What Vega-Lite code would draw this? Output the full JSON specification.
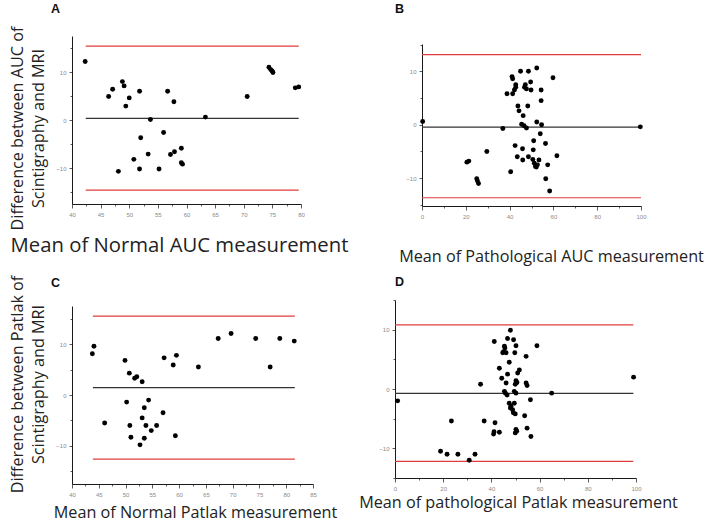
{
  "$schema": "https://vega.github.io/schema/vega-lite/v6.json",
  "padding": {"left": 8, "top": 2, "right": 2, "bottom": 2},
  "background": "white",
  "config": {
    "view": {"stroke": null},
    "font": "Open Sans",
    "title": {"font": "Liberation Sans", "fontSize": 12.5, "fontWeight": "bold", "anchor": "start", "frame": "group", "baseline": "alphabetic", "color": "#111111"},
    "axis": {"grid": false, "domainColor": "#1a1a1a", "domainWidth": 1, "tickColor": "#333333", "tickWidth": 0.8, "labelFontSize": 6, "labelColor": "#8a8a8a", "labelFont": "Liberation Sans", "labelPadding": 3, "titleFont": "Open Sans", "titleFontWeight": "normal", "titleColor": "#222222", "titleFontSize": 16.2, "labelOverlap": false, "labelFlush": false},
    "axisX": {"titleBaseline": "alphabetic", "titleAngle": 0},
    "axisY": {"titleLineHeight": 21, "titleBaseline": "bottom", "values": [-15, -10, -5, 0, 5, 10, 15],
      "labelExpr": "datum.value % 10 === 0 ? datum.label : ''",
      "tickSize": {"condition": {"test": "datum.value % 10 === 0", "value": 3}, "value": 2}}
  },
  "datasets": {
    "lines": [
      {"panel": "A", "kind": "limit", "m": 42.4, "m2": 79.6, "d": 15.4},
      {"panel": "A", "kind": "limit", "m": 42.4, "m2": 79.6, "d": -14.6},
      {"panel": "A", "kind": "mean", "m": 42.4, "m2": 79.6, "d": 0.35},
      {"panel": "B", "kind": "limit", "m": 0, "m2": 100, "d": 13.1},
      {"panel": "B", "kind": "limit", "m": 0, "m2": 100, "d": -13.66},
      {"panel": "B", "kind": "mean", "m": 0, "m2": 100, "d": -0.43},
      {"panel": "C", "kind": "limit", "m": 43.9, "m2": 81.6, "d": 15.5},
      {"panel": "C", "kind": "limit", "m": 43.9, "m2": 81.6, "d": -12.6},
      {"panel": "C", "kind": "mean", "m": 43.9, "m2": 81.6, "d": 1.45},
      {"panel": "D", "kind": "limit", "m": 0, "m2": 98.9, "d": 10.8},
      {"panel": "D", "kind": "limit", "m": 0, "m2": 98.9, "d": -12.2},
      {"panel": "D", "kind": "mean", "m": 0, "m2": 98.9, "d": -0.73}
    ],
    "pointsA": [
      {"m": 42.3, "d": 12.2}, {"m": 46.4, "d": 4.9}, {"m": 47.1, "d": 6.4}, {"m": 48.8, "d": 8.0}, {"m": 49.1, "d": 7.1},
      {"m": 50.0, "d": 4.6}, {"m": 49.4, "d": 2.9}, {"m": 51.8, "d": 6.0}, {"m": 48.1, "d": -10.7}, {"m": 50.8, "d": -8.2},
      {"m": 51.8, "d": -10.2}, {"m": 52.0, "d": -3.7}, {"m": 53.3, "d": -7.1}, {"m": 53.7, "d": 0.1}, {"m": 55.2, "d": -10.2},
      {"m": 56.0, "d": -2.6}, {"m": 56.7, "d": 6.0}, {"m": 57.2, "d": -7.2}, {"m": 57.8, "d": 3.8}, {"m": 57.9, "d": -6.6},
      {"m": 59.1, "d": -5.9}, {"m": 59.1, "d": -8.9}, {"m": 59.3, "d": -9.2}, {"m": 63.3, "d": 0.6}, {"m": 70.6, "d": 4.9},
      {"m": 74.4, "d": 11.0}, {"m": 74.7, "d": 10.5}, {"m": 74.95, "d": 10.2}, {"m": 75.1, "d": 9.9}, {"m": 79.0, "d": 6.7},
      {"m": 79.6, "d": 6.9}
    ],
    "pointsB": [
      {"m": 0.3, "d": 0.6}, {"m": 20.5, "d": -7.0}, {"m": 21.4, "d": -6.8}, {"m": 29.6, "d": -5.0}, {"m": 25.0, "d": -10.1},
      {"m": 25.3, "d": -10.5}, {"m": 25.8, "d": -11.0}, {"m": 36.9, "d": -0.7}, {"m": 38.8, "d": 5.8}, {"m": 40.5, "d": -8.8},
      {"m": 41.1, "d": 9.0}, {"m": 41.4, "d": 8.6}, {"m": 41.4, "d": 5.8}, {"m": 42.2, "d": 6.5}, {"m": 42.8, "d": 7.0},
      {"m": 42.8, "d": 7.5}, {"m": 42.5, "d": -3.9}, {"m": 43.5, "d": -6.0}, {"m": 43.8, "d": 3.5}, {"m": 44.3, "d": 2.6},
      {"m": 45.0, "d": 10.0}, {"m": 45.5, "d": 0.1}, {"m": 46.2, "d": 1.7}, {"m": 45.9, "d": -4.5}, {"m": 46.0, "d": -6.6},
      {"m": 46.6, "d": -0.2}, {"m": 47.2, "d": 7.5}, {"m": 46.8, "d": 7.0}, {"m": 47.7, "d": 6.7}, {"m": 47.7, "d": -0.6},
      {"m": 48.3, "d": 3.5}, {"m": 48.6, "d": 10.0}, {"m": 48.6, "d": -6.0}, {"m": 49.6, "d": 8.0}, {"m": 49.8, "d": 6.5},
      {"m": 50.8, "d": -4.7}, {"m": 50.6, "d": -6.5}, {"m": 51.0, "d": -3.0}, {"m": 51.3, "d": -7.2}, {"m": 51.8, "d": -7.8},
      {"m": 52.2, "d": -7.9}, {"m": 52.4, "d": 10.6}, {"m": 52.4, "d": 0.5}, {"m": 52.7, "d": -7.5}, {"m": 53.4, "d": -6.6},
      {"m": 54.0, "d": -1.7}, {"m": 54.4, "d": 6.5}, {"m": 54.4, "d": 4.5}, {"m": 54.6, "d": 0.0}, {"m": 56.4, "d": -3.5},
      {"m": 56.5, "d": -10.1}, {"m": 57.4, "d": -7.5}, {"m": 58.3, "d": -12.4}, {"m": 59.8, "d": 8.8}, {"m": 61.6, "d": -5.8},
      {"m": 99.7, "d": -0.4}
    ],
    "pointsC": [
      {"m": 43.8, "d": 8.1}, {"m": 44.1, "d": 9.6}, {"m": 46.1, "d": -5.5}, {"m": 49.9, "d": 6.8}, {"m": 50.2, "d": -1.4},
      {"m": 50.7, "d": 4.3}, {"m": 50.8, "d": -6.0}, {"m": 51.0, "d": -8.3}, {"m": 51.7, "d": 3.3}, {"m": 52.1, "d": 3.6},
      {"m": 52.7, "d": -9.8}, {"m": 53.1, "d": 2.6}, {"m": 53.1, "d": -4.5}, {"m": 53.5, "d": -2.5}, {"m": 53.5, "d": -8.5},
      {"m": 53.8, "d": -6.0}, {"m": 54.3, "d": -1.0}, {"m": 54.8, "d": -7.0}, {"m": 55.8, "d": -6.0}, {"m": 57.0, "d": -3.5},
      {"m": 57.2, "d": 7.3}, {"m": 58.9, "d": 5.9}, {"m": 59.3, "d": -8.0}, {"m": 59.5, "d": 7.8}, {"m": 63.6, "d": 5.5},
      {"m": 67.3, "d": 11.1}, {"m": 69.7, "d": 12.1}, {"m": 74.3, "d": 11.1}, {"m": 77.0, "d": 5.5}, {"m": 78.8, "d": 11.1},
      {"m": 81.5, "d": 10.6}
    ],
    "pointsD": [
      {"m": 1.1, "d": -2.0}, {"m": 18.9, "d": -10.5}, {"m": 21.6, "d": -11.0}, {"m": 23.4, "d": -5.4}, {"m": 26.1, "d": -11.0},
      {"m": 30.8, "d": -12.0}, {"m": 33.2, "d": -11.0}, {"m": 35.5, "d": 0.8}, {"m": 37.0, "d": -5.4}, {"m": 41.2, "d": 8.0},
      {"m": 41.5, "d": -5.7}, {"m": 41.1, "d": -7.2}, {"m": 40.9, "d": -7.6}, {"m": 43.3, "d": -7.3}, {"m": 43.3, "d": 3.5},
      {"m": 44.3, "d": 1.8}, {"m": 44.7, "d": 6.1}, {"m": 45.1, "d": 6.3}, {"m": 45.6, "d": 6.9}, {"m": 45.4, "d": 7.2},
      {"m": 46.1, "d": 6.1}, {"m": 45.4, "d": -0.4}, {"m": 45.8, "d": -0.7}, {"m": 46.5, "d": -1.0}, {"m": 46.1, "d": 1.0},
      {"m": 46.7, "d": 8.5}, {"m": 46.7, "d": 2.5}, {"m": 47.4, "d": 4.5}, {"m": 47.9, "d": 9.9}, {"m": 47.4, "d": -2.4},
      {"m": 48.1, "d": -2.9}, {"m": 47.9, "d": -3.2}, {"m": 48.8, "d": -3.5}, {"m": 49.2, "d": 8.3}, {"m": 49.7, "d": 6.1},
      {"m": 49.5, "d": -0.4}, {"m": 49.5, "d": -2.4}, {"m": 49.1, "d": -4.0}, {"m": 49.9, "d": -4.2}, {"m": 50.2, "d": 7.3},
      {"m": 50.2, "d": 1.4}, {"m": 50.6, "d": 1.1}, {"m": 49.9, "d": 0.8}, {"m": 50.9, "d": 2.7}, {"m": 50.2, "d": -0.7},
      {"m": 50.2, "d": -6.8}, {"m": 50.5, "d": -7.1}, {"m": 49.9, "d": -7.4}, {"m": 51.6, "d": 3.2}, {"m": 53.8, "d": -4.5},
      {"m": 54.4, "d": 5.5}, {"m": 54.4, "d": 1.0}, {"m": 54.8, "d": 0.6}, {"m": 54.8, "d": -6.6}, {"m": 56.2, "d": -1.8},
      {"m": 56.4, "d": -8.0}, {"m": 58.9, "d": 7.3}, {"m": 65.0, "d": -0.7}, {"m": 99.0, "d": 2.0}
    ]
  },
  "bounds": "flush",
  "columns": 2,
  "spacing": {"row": 94, "column": 82},
  "concat": [
    {
      "width": 229, "height": 168,
      "title": {"text": "A", "dx": -21, "offset": 11},
      "encoding": {
        "x": {"field": "m", "type": "quantitative", "scale": {"domain": [40, 80], "nice": false, "zero": false},
          "axis": {"values": [40, 42.5, 45, 47.5, 50, 52.5, 55, 57.5, 60, 62.5, 65, 67.5, 70, 72.5, 75, 77.5, 80],
            "labelExpr": "datum.value % 5 === 0 ? datum.label : ''",
            "tickSize": {"condition": {"test": "datum.value % 5 === 0", "value": 4}, "value": 2},
            "title": "Mean of Normal AUC measurement", "titleFontSize": 20.3, "titleX": 107, "titleY": 47}},
        "y": {"field": "d", "type": "quantitative", "scale": {"domain": [-17.5, 17.5], "nice": false, "zero": false},
          "axis": {"title": ["Difference between AUC of", "Scintigraphy and MRI"], "titleX": -47, "titleY": 92}}
      },
      "layer": [
        {"data": {"name": "lines"}, "transform": [{"filter": "datum.panel === 'A'"}],
          "mark": {"type": "rule", "strokeWidth": 1.2},
          "encoding": {"x2": {"field": "m2"}, "color": {"field": "kind", "type": "nominal", "scale": {"domain": ["limit", "mean"], "range": ["#e03c3c", "#333333"]}, "legend": null}}},
        {"data": {"name": "pointsA"}, "mark": {"type": "circle", "size": 24, "color": "#000000", "opacity": 1}}
      ]
    },
    {
      "width": 246, "height": 170,
      "title": {"text": "B", "dx": 0, "offset": 21},
      "encoding": {
        "x": {"field": "m", "type": "quantitative", "scale": {"domain": [0, 100], "nice": false, "zero": false, "range": [27, 246]},
          "axis": {"values": [0, 10, 20, 30, 40, 50, 60, 70, 80, 90, 100],
            "labelExpr": "datum.value % 20 === 0 ? datum.label : ''",
            "tickSize": {"condition": {"test": "datum.value % 20 === 0", "value": 4}, "value": 2},
            "title": "Mean of Pathological AUC measurement", "titleX": 156, "titleY": 55}},
        "y": {"field": "d", "type": "quantitative", "scale": {"domain": [-15.2, 15.1], "nice": false, "zero": false, "range": [170, 8]},
          "axis": {"title": null, "offset": -27}}
      },
      "layer": [
        {"data": {"name": "lines"}, "transform": [{"filter": "datum.panel === 'B'"}],
          "mark": {"type": "rule", "strokeWidth": 1.2},
          "encoding": {"x2": {"field": "m2"}, "color": {"field": "kind", "type": "nominal", "scale": {"domain": ["limit", "mean"], "range": ["#e03c3c", "#333333"]}, "legend": null}}},
        {"data": {"name": "pointsB"}, "mark": {"type": "circle", "size": 24, "color": "#000000", "opacity": 1}}
      ]
    },
    {
      "width": 241, "height": 184,
      "title": {"text": "C", "dx": -21, "offset": -14},
      "encoding": {
        "x": {"field": "m", "type": "quantitative", "scale": {"domain": [40, 85], "nice": false, "zero": false},
          "axis": {"values": [40, 42.5, 45, 47.5, 50, 52.5, 55, 57.5, 60, 62.5, 65, 67.5, 70, 72.5, 75, 77.5, 80, 82.5, 85],
            "labelExpr": "datum.value % 5 === 0 ? datum.label : ''",
            "tickSize": {"condition": {"test": "datum.value % 5 === 0", "value": 4}, "value": 2},
            "title": "Mean of Normal Patlak measurement", "titleX": 123, "titleY": 33}},
        "y": {"field": "d", "type": "quantitative", "scale": {"domain": [-17.5, 17.5], "nice": false, "zero": false, "range": [184, 6]},
          "axis": {"title": ["Difference between Patlak of", "Scintigraphy and MRI"], "titleX": -47, "titleY": 84}}
      },
      "layer": [
        {"data": {"name": "lines"}, "transform": [{"filter": "datum.panel === 'C'"}],
          "mark": {"type": "rule", "strokeWidth": 1.2},
          "encoding": {"x2": {"field": "m2"}, "color": {"field": "kind", "type": "nominal", "scale": {"domain": ["limit", "mean"], "range": ["#e03c3c", "#333333"]}, "legend": null}}},
        {"data": {"name": "pointsC"}, "mark": {"type": "circle", "size": 24, "color": "#000000", "opacity": 1}}
      ]
    },
    {
      "width": 241, "height": 178,
      "title": {"text": "D", "dx": 0, "offset": 9},
      "encoding": {
        "x": {"field": "m", "type": "quantitative", "scale": {"domain": [0, 100], "nice": false, "zero": false},
          "axis": {"values": [0, 10, 20, 30, 40, 50, 60, 70, 80, 90, 100],
            "labelExpr": "datum.value % 20 === 0 ? datum.label : ''",
            "tickSize": {"condition": {"test": "datum.value % 20 === 0", "value": 4}, "value": 2},
            "title": "Mean of pathological Patlak measurement", "titleX": 123, "titleY": 29}},
        "y": {"field": "d", "type": "quantitative", "scale": {"domain": [-15, 15], "nice": false, "zero": false},
          "axis": {"title": null}}
      },
      "layer": [
        {"data": {"name": "lines"}, "transform": [{"filter": "datum.panel === 'D'"}],
          "mark": {"type": "rule", "strokeWidth": 1.2},
          "encoding": {"x2": {"field": "m2"}, "color": {"field": "kind", "type": "nominal", "scale": {"domain": ["limit", "mean"], "range": ["#e03c3c", "#333333"]}, "legend": null}}},
        {"data": {"name": "pointsD"}, "mark": {"type": "circle", "size": 24, "color": "#000000", "opacity": 1}}
      ]
    }
  ]
}
